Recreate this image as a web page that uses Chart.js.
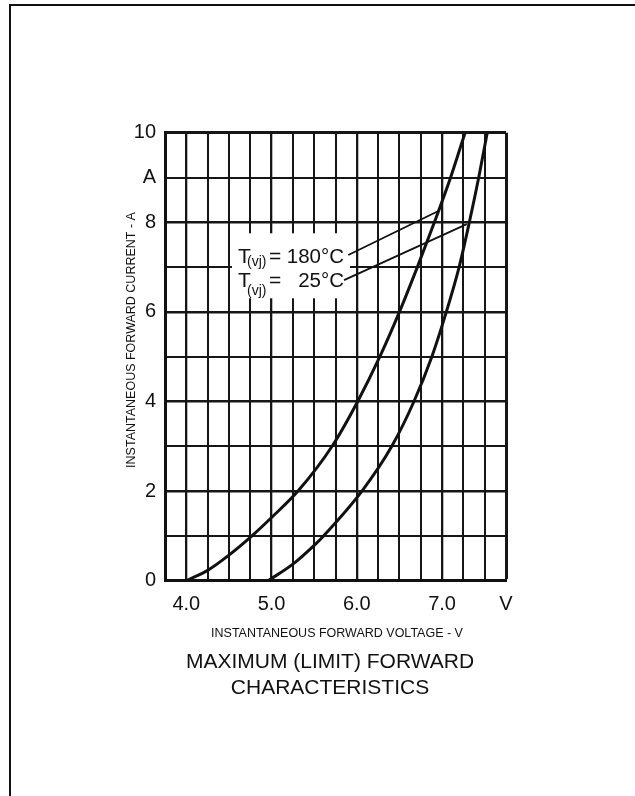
<!DOCTYPE html>
<html>
<head>
<meta charset="utf-8">
<script src="https://cdn.jsdelivr.net/npm/chart.js@4.4.1/dist/chart.umd.min.js"></script>
<style>
  body { margin: 0; background: #fff; }
  canvas { display: block; }
</style>
</head>
<body>
<canvas id="forward-chart" width="635" height="796"></canvas>
<script>
// Forward characteristics
const voltage180 = [4.0, 4.25, 4.5, 4.77, 5.0, 5.31, 5.71, 6.01, 6.27, 6.5, 6.71, 6.91, 7.1, 7.27];
const current180 = [0, 0.23, 0.57, 1.0, 1.41, 2.0, 3.0, 4.0, 5.0, 6.0, 7.0, 8.0, 9.0, 10.0];
const voltage25 = [4.96, 5.25, 5.5, 5.61, 6.06, 6.41, 6.67, 6.88, 7.05, 7.2, 7.32, 7.43, 7.53];
const current25 = [0, 0.37, 0.79, 1.0, 2.0, 3.0, 4.0, 5.0, 6.0, 7.0, 8.0, 9.0, 10.0];

const xMin = 3.75, xMax = 7.75, xStep = 0.25;
const yMin = 0, yMax = 10, yStep = 1;
const xTickLabels = { 4: "4.0", 5: "5.0", 6: "6.0", 7: "7.0", 7.75: "V" };
const yTickLabels = { 0: "0", 2: "2", 4: "4", 6: "6", 8: "8", 9: "A", 10: "10" };

const labelTexts = [["T", "(vj)", "=", "180°C"], ["T", "(vj)", "=", "25°C"]];
// leader lines: [startV, startI, endV, endI]
const leaders = [[5.9, 7.27, 6.975, 8.27], [5.85, 6.71, 7.29, 7.96]];

const FONT = "'Liberation Sans', Arial, Helvetica, sans-serif";

function toPoints(xs, ys) {
  return xs.map((x, i) => ({ x: x, y: ys[i] }));
}
function isInt(v) {
  return Math.abs(v - Math.round(v)) < 1e-6;
}
function lookup(table, v) {
  for (const k in table) {
    if (Math.abs(parseFloat(k) - v) < 1e-6) return table[k];
  }
  return "";
}

const decorPlugin = {
  id: "decor",
  beforeDraw(chart) {
    const ctx = chart.ctx;
    ctx.save();
    ctx.strokeStyle = "#111";
    ctx.lineWidth = 2;
    ctx.beginPath();
    ctx.moveTo(635, 5);
    ctx.lineTo(10, 5);
    ctx.lineTo(10, 796);
    ctx.stroke();
    ctx.restore();
  },
  beforeDatasetsDraw(chart) {
    const ctx = chart.ctx;
    const xs = chart.scales.x, ys = chart.scales.y;
    const ax = xs.getPixelForValue(4.606);
    const ay = ys.getPixelForValue(7.085);
    ctx.save();
    // white box behind the labels
    ctx.fillStyle = "#fff";
    ctx.fillRect(ax - 6, ay - 30, 118, 65);
    // leader lines
    ctx.strokeStyle = "#111";
    ctx.lineWidth = 1.8;
    leaders.forEach(l => {
      ctx.beginPath();
      ctx.moveTo(xs.getPixelForValue(l[0]), ys.getPixelForValue(l[1]));
      ctx.lineTo(xs.getPixelForValue(l[2]), ys.getPixelForValue(l[3]));
      ctx.stroke();
    });
    // labels
    ctx.fillStyle = "#111";
    ctx.textBaseline = "alphabetic";
    const lineGap = 23.4;
    const subDrop = [3, 8];
    labelTexts.forEach((t, i) => {
      const by = ay + i * lineGap;
      ctx.font = "21px " + FONT;
      ctx.textAlign = "left";
      ctx.fillText(t[0], ax, by);
      ctx.fillText(t[2], ax + 31, by);
      ctx.font = "20.5px " + FONT;
      ctx.textAlign = "right";
      ctx.fillText(t[3], ax + 106, by);
      ctx.font = "14px " + FONT;
      ctx.textAlign = "left";
      ctx.fillText(t[1], ax + 9, by + subDrop[i]);
    });
    ctx.restore();
  },
  afterDraw(chart) {
    const ctx = chart.ctx;
    ctx.save();
    ctx.fillStyle = "#111";
    ctx.textAlign = "center";
    ctx.textBaseline = "middle";
    ctx.font = "12.5px " + FONT;
    ctx.fillText("INSTANTANEOUS FORWARD VOLTAGE - V", 337, 634);
    ctx.font = "21px " + FONT;
    ctx.fillText("MAXIMUM (LIMIT) FORWARD", 330, 662);
    ctx.fillText("CHARACTERISTICS", 330, 688);
    ctx.translate(131.5, 340);
    ctx.rotate(-Math.PI / 2);
    ctx.font = "12.5px " + FONT;
    ctx.fillText("INSTANTANEOUS FORWARD CURRENT - A", 0, 0);
    ctx.restore();
  }
};

const ctx = document.getElementById("forward-chart").getContext("2d");
new Chart(ctx, {
  type: "scatter",
  data: {
    datasets: [
      {
        label: "T(vj) = 180°C",
        data: toPoints(voltage180, current180),
        showLine: true,
        borderColor: "#111",
        borderWidth: 3,
        pointRadius: 0,
        cubicInterpolationMode: "monotone",
      },
      {
        label: "T(vj) = 25°C",
        data: toPoints(voltage25, current25),
        showLine: true,
        borderColor: "#111",
        borderWidth: 3,
        pointRadius: 0,
        cubicInterpolationMode: "monotone",
      },
    ],
  },
  options: {
    responsive: false,
    animation: false,
    layout: { padding: { left: 0, top: 132.7, right: 129, bottom: 0 } },
    plugins: {
      legend: { display: false },
      tooltip: { enabled: false },
    },
    scales: {
      x: {
        type: "linear",
        min: xMin,
        max: xMax,
        afterFit(scale) { scale.height = 215.3; },
        border: { display: true, color: "#111", width: 3 },
        grid: {
          color: "#161616",
          drawTicks: false,
          lineWidth: c => (Math.abs(c.tick.value - xMax) < 1e-6 ? 3 : isInt(c.tick.value) ? 2.3 : 2),
        },
        ticks: {
          stepSize: xStep,
          autoSkip: false,
          maxRotation: 0,
          padding: 12,
          color: "#111",
          font: { family: FONT, size: 20 },
          callback: v => lookup(xTickLabels, v),
        },
      },
      y: {
        min: yMin,
        max: yMax,
        afterFit(scale) { scale.width = 165; },
        border: { display: true, color: "#111", width: 3 },
        grid: {
          color: "#161616",
          drawTicks: false,
          lineWidth: c => (c.tick.value === yMax ? 3 : c.tick.value % 2 === 0 ? 2.5 : 2),
        },
        ticks: {
          stepSize: yStep,
          autoSkip: false,
          padding: 9,
          color: "#111",
          font: { family: FONT, size: 20 },
          callback: v => lookup(yTickLabels, v),
        },
      },
    },
  },
  plugins: [decorPlugin],
});
</script>
</body>
</html>
